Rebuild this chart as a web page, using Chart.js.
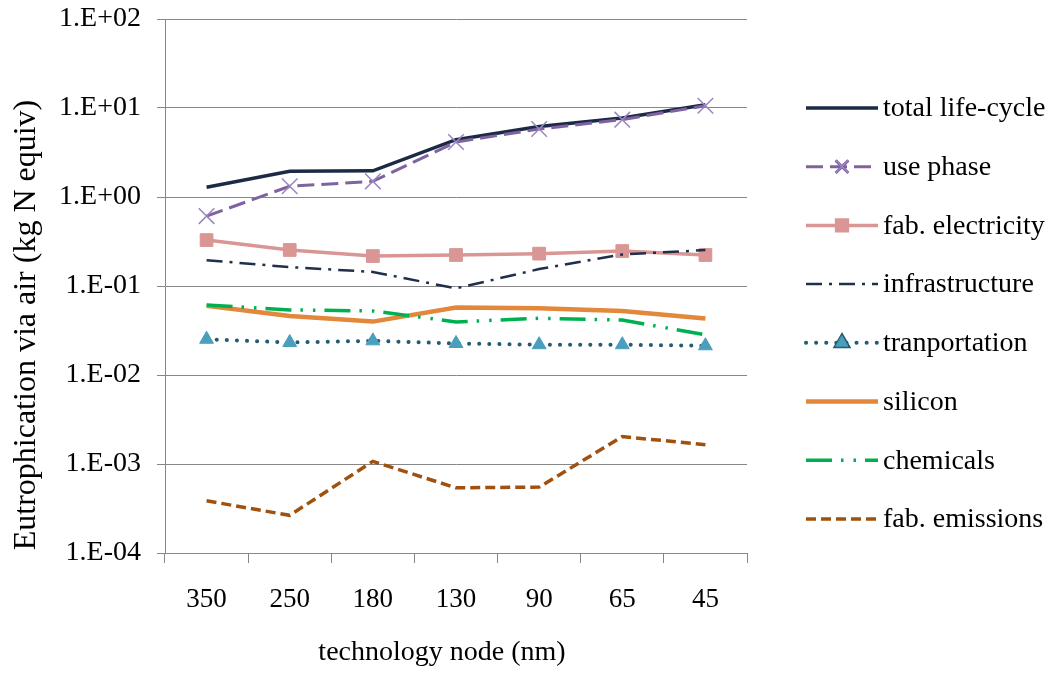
<!DOCTYPE html>
<html>
<head>
<meta charset="utf-8">
<script src="https://cdn.jsdelivr.net/npm/chart.js@4.4.1/dist/chart.umd.min.js"></script>
<style>
  html, body { margin: 0; padding: 0; background: #ffffff; }
  #wrap { width: 1058px; height: 673px; }
</style>
</head>
<body>
<div id="wrap"><canvas id="c" width="1058" height="673"></canvas></div>
<script>
// Technology nodes (nm)
const nodes = ['350', '250', '180', '130', '90', '65', '45'];

// Eutrophication via air, kg N equivalent, per node
const totalLifeCycle  = [1.29, 1.95, 1.97, 4.4, 6.2, 7.7, 10.9];
const usePhase        = [0.61, 1.32, 1.50, 4.15, 5.8, 7.4, 10.6];
const fabElectricity  = [0.328, 0.254, 0.217, 0.223, 0.231, 0.247, 0.223];
const infrastructure  = [0.195, 0.163, 0.144, 0.094, 0.155, 0.226, 0.253];
const transportation  = [0.0252, 0.0232, 0.0242, 0.0226, 0.0219, 0.0219, 0.0213];
const silicon         = [0.060, 0.0461, 0.0398, 0.0572, 0.0562, 0.0525, 0.0431];
const chemicals       = [0.0612, 0.0538, 0.0525, 0.0395, 0.0434, 0.0415, 0.0283];
const fabEmissions    = [0.000386, 0.000265, 0.00107, 0.00054, 0.00055, 0.00203, 0.00165];

// Decade ticks on the log axis
const decadeExponents = [-4, -3, -2, -1, 0, 1, 2];

// Axis titles
const xTitle = 'technology node (nm)';
const yTitle = 'Eutrophication via air (kg N equiv)';

const FONT = "'Liberation Serif', 'Times New Roman', serif";

function fmtSci(v) {
  const e = Math.round(Math.log10(v));
  const s = e < 0 ? '-' : '+';
  const a = Math.abs(e);
  return '1.E' + s + (a < 10 ? '0' : '') + a;
}

const datasets = [
  { label: 'total life-cycle', data: totalLifeCycle, borderColor: '#1c2a45', borderWidth: 3.5,
    pointRadius: 0 },
  { label: 'use phase', data: usePhase, borderColor: '#7f63a1', borderWidth: 3, borderDash: [17, 7],
    pointStyle: 'crossRot', pointRadius: 11, pointBorderColor: '#9a86c0', pointBorderWidth: 1.5 },
  { label: 'fab. electricity', data: fabElectricity, borderColor: '#d99694', borderWidth: 3.5,
    pointStyle: 'rect', pointRadius: 9, pointBackgroundColor: '#d99694', pointBorderColor: '#d99694', pointBorderWidth: 1 },
  { label: 'infrastructure', data: infrastructure, borderColor: '#1f2f4c', borderWidth: 2.5, borderDash: [16, 7, 3, 7],
    pointRadius: 0 },
  { label: 'tranportation', data: transportation, borderColor: '#245c70', borderWidth: 4, borderDash: [0.1, 10],
    borderCapStyle: 'round',
    pointStyle: 'triangle', pointRadius: 8, pointBackgroundColor: '#4a9fbd', pointBorderColor: '#4a9fbd', pointBorderWidth: 1 },
  { label: 'silicon', data: silicon, borderColor: '#e3873a', borderWidth: 4.5, pointRadius: 0 },
  { label: 'chemicals', data: chemicals, borderColor: '#00b04f', borderWidth: 3.5, borderDash: [26, 9, 2.5, 10, 2.5, 9],
    pointRadius: 0 },
  { label: 'fab. emissions', data: fabEmissions, borderColor: '#a0510f', borderWidth: 3.5, borderDash: [10, 5],
    pointRadius: 0 }
];
datasets.forEach((d, i) => {
  d.fill = false;
  d.tension = 0;
  d.order = -i;
  d.pointHoverRadius = d.pointRadius;
  if (d.pointBackgroundColor === undefined) d.pointBackgroundColor = 'rgba(0,0,0,0)';
});

// Legend on the right with line samples and markers, plus the two axis titles
const sideLegend = {
  id: 'sideLegend',
  afterDraw(chart) {
    const ctx = chart.ctx;
    const x0 = 806, x1 = 878, xm = 842, tx = 883;
    const y0 = 108, step = 58.7;
    chart.data.datasets.forEach((d, i) => {
      const y = y0 + i * step;
      ctx.save();
      ctx.strokeStyle = d.borderColor;
      ctx.lineWidth = d.borderWidth;
      ctx.lineCap = d.borderCapStyle || 'butt';
      ctx.setLineDash(d.borderDash || []);
      ctx.beginPath();
      ctx.moveTo(x0, y);
      ctx.lineTo(x1, y);
      ctx.stroke();
      ctx.setLineDash([]);
      if (d.pointRadius > 0) {
        Chart.helpers.drawPoint(ctx, {
          pointStyle: d.pointStyle,
          radius: d.pointStyle === 'crossRot' ? 9 : d.pointRadius * 0.85,
          rotation: 0,
          borderWidth: d.pointBorderWidth
        }, xm, y);
        ctx.fillStyle = d.pointBackgroundColor;
        ctx.strokeStyle = d.pointBorderColor;
        ctx.lineWidth = d.pointBorderWidth;
        if (d.pointStyle !== 'crossRot') ctx.fill();
        ctx.stroke();
      }
      ctx.fillStyle = '#000000';
      ctx.font = '28px ' + FONT;
      ctx.textBaseline = 'middle';
      ctx.textAlign = 'left';
      ctx.fillText(d.label, tx, y + 1);
      ctx.restore();
    });

    ctx.save();
    ctx.fillStyle = '#000000';
    ctx.textAlign = 'center';
    ctx.textBaseline = 'middle';
    ctx.font = '28px ' + FONT;
    ctx.fillText(xTitle, 442, 653);
    ctx.translate(27, 325);
    ctx.rotate(-Math.PI / 2);
    ctx.font = '32px ' + FONT;
    ctx.fillText(yTitle, 0, 0);
    ctx.restore();
  }
};

new Chart(document.getElementById('c'), {
  type: 'line',
  data: { labels: nodes, datasets: datasets },
  plugins: [sideLegend],
  options: {
    responsive: false,
    animation: false,
    events: [],
    layout: { padding: { top: 19, right: 311, bottom: 0, left: 0 } },
    plugins: {
      legend: { display: false },
      tooltip: { enabled: false }
    },
    scales: {
      x: {
        type: 'category',
        offset: true,
        grid: {
          offset: true,
          drawOnChartArea: false,
          drawTicks: true,
          tickLength: 10,
          color: '#878787',
          lineWidth: 1
        },
        border: { color: '#878787', width: 1 },
        ticks: {
          color: '#000000',
          font: { family: FONT, size: 27 },
          padding: 21,
          maxRotation: 0,
          autoSkip: false
        },
        title: { display: false },
        afterFit(scale) {
          scale.height = 120;
          scale.paddingLeft = 0;
          scale.paddingRight = 0;
        }
      },
      y: {
        type: 'logarithmic',
        min: 1e-4,
        max: 100,
        afterBuildTicks(scale) {
          scale.ticks = decadeExponents.map(e => ({ value: Math.pow(10, e) }));
        },
        grid: {
          color: '#878787',
          lineWidth: 1,
          drawTicks: true,
          tickLength: 8
        },
        border: { color: '#878787', width: 1 },
        ticks: {
          color: '#000000',
          font: { family: FONT, size: 28 },
          padding: 16,
          autoSkip: false,
          callback: (v) => fmtSci(v)
        },
        title: { display: false },
        afterFit(scale) {
          scale.width = 165;
          scale.paddingTop = 0;
          scale.paddingBottom = 0;
        }
      }
    }
  }
});
</script>
</body>
</html>
